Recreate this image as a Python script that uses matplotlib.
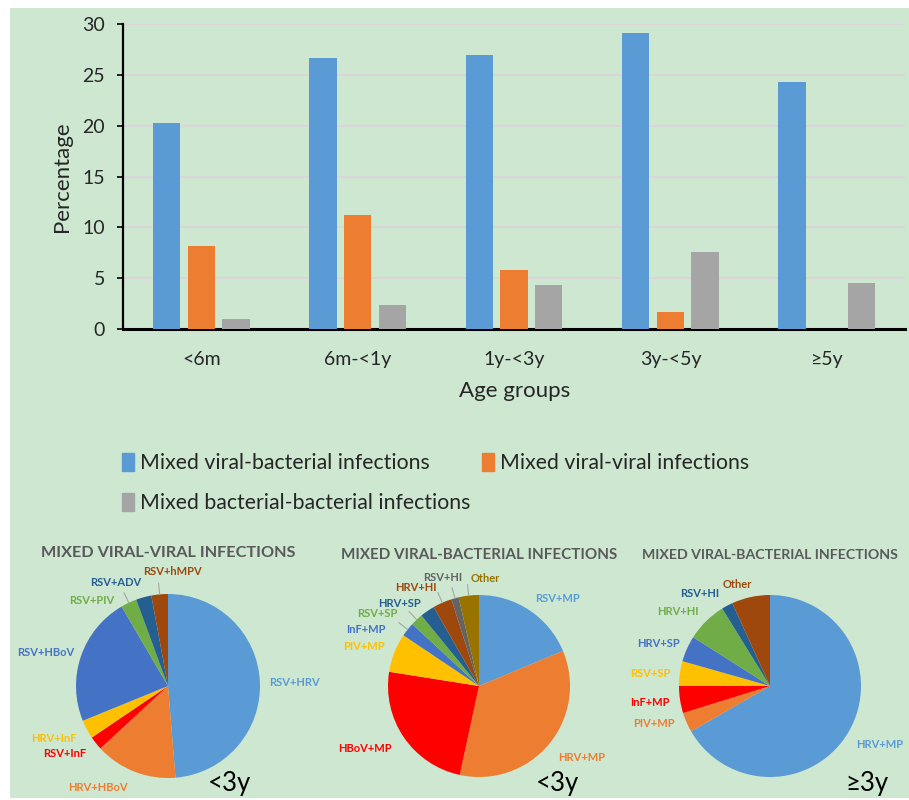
import numpy as np
import matplotlib
matplotlib.use('Agg')
import matplotlib.pyplot as plt
from matplotlib.patches import Rectangle, Patch

plt.rcParams['font.family'] = ['Lato', 'DejaVu Sans']

# bar chart data
age_groups = ['<6m', '6m-<1y', '1y-<3y', '3y-<5y', '≥5y']
viral_bacterial = [20.3, 26.7, 27.0, 29.1, 24.3]
viral_viral = [8.2, 11.2, 5.8, 1.7, 0.0]
bacterial_bacterial = [1.0, 2.4, 4.3, 7.6, 4.5]
series_names = ['Mixed viral-bacterial infections', 'Mixed viral-viral infections',
                'Mixed bacterial-bacterial infections']

# pie data (percent of each panel)
vv_labels = ['RSV+HRV', 'HRV+HBoV', 'RSV+InF', 'HRV+InF', 'RSV+HBoV', 'RSV+PIV', 'RSV+ADV', 'RSV+hMPV']
vv_values = [48.6, 14.4, 2.4, 3.3, 22.7, 2.8, 2.7, 2.9]
vb_young_labels = ['RSV+MP', 'HRV+MP', 'HBoV+MP', 'PIV+MP', 'InF+MP', 'RSV+SP', 'HRV+SP', 'HRV+HI', 'RSV+HI', 'Other']
vb_young_values = [18.7, 34.7, 24.1, 6.9, 2.5, 2.2, 2.6, 3.4, 1.3, 3.6]
vb_old_labels = ['HRV+MP', 'PIV+MP', 'InF+MP', 'RSV+SP', 'HRV+SP', 'HRV+HI', 'RSV+HI', 'Other']
vb_old_values = [66.7, 3.5, 4.8, 4.4, 4.6, 7.2, 2.0, 6.8]

# colours
c_blue, c_orange, c_gray = '#5B9BD5', '#ED7D31', '#A5A5A5'
c_red, c_yellow, c_dblue, c_green = '#FF0000', '#FFC000', '#4472C4', '#70AD47'
c_navy, c_brown, c_dgray, c_gold = '#255E91', '#9E480E', '#636363', '#997300'
vv_colors = [c_blue, c_orange, c_red, c_yellow, c_dblue, c_green, c_navy, c_brown]
vb_young_colors = [c_blue, c_orange, c_red, c_yellow, c_dblue, c_green, c_navy, c_brown, c_dgray, c_gold]
vb_old_colors = [c_blue, c_orange, c_red, c_yellow, c_dblue, c_green, c_navy, c_brown]
bg = '#CDE7D1'
txt = '#262626'

W, H = 909, 800
def fx(px):
    return px / W
def fy(py):
    return 1 - py / H

fig = plt.figure(figsize=(W / 100, H / 100), dpi=100)
fig.patches.append(Rectangle((fx(10), fy(798)), fx(899), 790 / H, transform=fig.transFigure,
                             facecolor=bg, edgecolor='none', zorder=-10))

# ---- bar chart ----
ax = fig.add_axes([fx(123), fy(329), 782 / W, 305 / H])
ax.set_facecolor('none')
x = np.arange(len(age_groups))
bw = 0.175
off = 0.222
ax.bar(x - off, viral_bacterial, bw, color=c_blue, zorder=3)
ax.bar(x, viral_viral, bw, color=c_orange, zorder=3)
ax.bar(x + off, bacterial_bacterial, bw, color=c_gray, zorder=3)
ax.set_xlim(-0.5, len(age_groups) - 0.5)
ax.set_ylim(0, 30)
ax.set_yticks(range(0, 31, 5))
ax.set_xticks(x)
ax.set_xticklabels(age_groups)
ax.grid(axis='y', color='#DDD3DA', linewidth=1.3, zorder=0)
for s in ['top', 'right']:
    ax.spines[s].set_visible(False)
ax.spines['left'].set_linewidth(1.6)
ax.spines['bottom'].set_linewidth(2.2)
ax.tick_params(axis='y', direction='out', length=4, width=1.2, labelsize=14, pad=9, colors=txt)
ax.tick_params(axis='y', color='black')
ax.tick_params(axis='x', length=0, labelsize=14, pad=16, colors=txt)
ax.set_ylabel('Percentage', fontsize=16, color=txt)
ax.yaxis.set_label_coords(-0.065, 0.5)
ax.set_xlabel('Age groups', fontsize=16, color=txt, va='top')
ax.xaxis.set_label_coords(0.501, -0.17)

handles = [Patch(color=c_blue), Patch(color=c_gray), Patch(color=c_orange)]
labels = [series_names[0], series_names[2], series_names[1]]
fig.legend(handles, labels, loc='upper left', bbox_to_anchor=(fx(122), fy(453)), ncol=2,
           frameon=False, fontsize=15.3, handlelength=0.55, handleheight=0.9, handletextpad=0.3,
           columnspacing=0.55, labelspacing=0.95, borderpad=0, borderaxespad=0, labelcolor=txt)

# ---- pies ----
def draw_pie(cx, cy, r, values, colors, labels, label_pos, leaders, title, title_y, title_size, tag, tag_x):
    S = 3.2 * r
    pax = fig.add_axes([fx(cx - S / 2), fy(cy + S / 2), S / W, S / H])
    pax.pie(values, colors=colors, startangle=90, counterclock=False, radius=1,
            wedgeprops=dict(linewidth=0))
    pax.set_xlim(-1.6, 1.6)
    pax.set_ylim(-1.6, 1.6)
    pax.axis('off')
    cum = np.cumsum(values) - np.array(values) / 2
    tot = sum(values)
    for i, lab in enumerate(labels):
        lx, ly = label_pos[i]
        pax.text(lx, ly, lab, color=colors[i], fontsize=8, fontweight='bold',
                 ha='center', va='center', clip_on=False)
        if lab in leaders:
            ang = np.deg2rad(90 - 360 * cum[i] / tot)
            pax.plot([np.cos(ang), 1.12 * np.cos(ang)], [np.sin(ang), 1.12 * np.sin(ang)],
                     color='#A6A6A6', lw=0.8, clip_on=False)
    fig.text(fx(cx), fy(title_y), title, fontsize=title_size, fontweight='bold', color='#595959',
             ha='center', va='center')
    fig.text(fx(tag_x), fy(784), tag, fontsize=18.5, color='black', ha='center', va='center')

vv_pos = [(1.38, 0.04), (-0.76, -1.10), (-1.12, -0.73), (-1.24, -0.57), (-1.33, 0.36),
          (-0.83, 0.93), (-0.57, 1.12), (0.05, 1.24)]
draw_pie(168, 686, 92, vv_values, vv_colors, vv_labels, vv_pos, ['RSV+PIV', 'RSV+hMPV'],
         'MIXED VIRAL-VIRAL INFECTIONS', 553, 11.7, '<3y', 229)

vby_pos = [(0.86, 0.96), (1.13, -0.79), (-1.25, -0.69), (-1.26, 0.43), (-1.24, 0.62),
           (-1.12, 0.80), (-0.87, 0.91), (-0.69, 1.08), (-0.40, 1.19), (0.07, 1.18)]
draw_pie(479, 686, 91, vb_young_values, vb_young_colors, vb_young_labels, vby_pos,
         ['InF+MP', 'RSV+SP', 'HRV+HI', 'RSV+HI', 'Other'],
         'MIXED VIRAL-BACTERIAL INFECTIONS', 555, 10.9, '<3y', 557)

vbo_pos = [(1.21, -0.64), (-1.27, -0.41), (-1.32, -0.18), (-1.31, 0.14), (-1.23, 0.47),
           (-1.01, 0.82), (-0.77, 1.02), (-0.36, 1.12)]
draw_pie(770, 686, 91, vb_old_values, vb_old_colors, vb_old_labels, vbo_pos, [],
         'MIXED VIRAL-BACTERIAL INFECTIONS', 555, 10.2, '≥3y', 867)

fig.savefig('out.png', dpi=100, facecolor='white')
